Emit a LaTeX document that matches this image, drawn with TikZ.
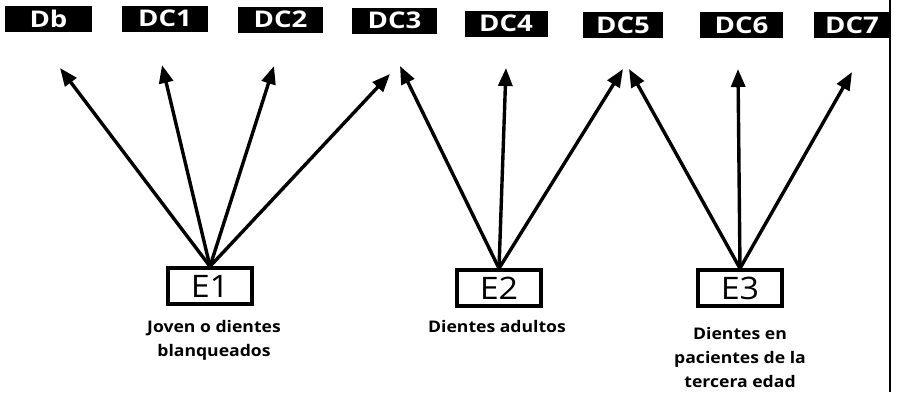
\documentclass[tikz,border=0pt]{standalone}
\usepackage{fontspec}
\setmainfont{Open Sans}
\newfontfamily\dcfont{Open Sans}[FakeStretch=1.2]
\newfontfamily\efont{Open Sans}[FakeStretch=1.1]
\newfontfamily\lblfont{Open Sans}[FakeStretch=1.1]
\usetikzlibrary{arrows.meta}
\begin{document}
\begin{tikzpicture}[x=1pt,y=1pt,
  dcbox/.style={fill=black,text=white,inner sep=0pt,minimum height=26pt,
    font=\dcfont\fontsize{23}{25}\selectfont\bfseries},
  ebox/.style={draw=black,line width=3.2pt,inner sep=0pt,minimum width=84pt,
    minimum height=36pt,font=\efont\fontsize{31}{33}\selectfont},
  lbl/.style={align=center,font=\lblfont\fontsize{16}{24}\selectfont\bfseries},
  arr/.style={line width=3.4pt,-{Triangle[length=18pt,width=14pt]}},
  border/.style={line width=2pt}]
\useasboundingbox (0,0) rectangle (907,-392);
% right border line
\coordinate (bt) at (890,0);
\coordinate (bb) at (890,-392);
\draw[border] (bt) -- (bb);
% top boxes
\node[dcbox,minimum width=87pt] (Db)  at (48.5,-18.5) {Db};
\node[dcbox,minimum width=86pt] (DC1) at (165,-18.5)    {DC1};
\node[dcbox,minimum width=85pt] (DC2) at (280.5,-19.5) {DC2};
\node[dcbox,minimum width=85pt] (DC3) at (394.5,-20.5) {DC3};
\node[dcbox,minimum width=83pt] (DC4) at (506,-23.5) {DC4};
\node[dcbox,minimum width=80pt] (DC5) at (623,-25)   {DC5};
\node[dcbox,minimum width=83pt] (DC6) at (741.5,-25) {DC6};
\node[dcbox,minimum width=76pt] (DC7) at (852,-25)   {DC7};
% bottom boxes
\node[ebox] (E1) at (210,-286) {E1};
\node[ebox] (E2) at (499,-288) {E2};
\node[ebox] (E3) at (740,-288) {E3};
% labels
\node[lbl,anchor=north] (L1) at (214,-317) {Joven o dientes\\blanqueados};
\node[lbl,anchor=north] (L2) at (497,-317) {Dientes adultos};
\node[lbl,anchor=south] (L3) at (740,-391) {Dientes en\\pacientes de la\\tercera edad};
% arrow tips (free ends below the top boxes)
\coordinate (tDb)  at (60,-68);
\coordinate (tDC1) at (162,-65);
\coordinate (tDC2) at (274,-66);
\coordinate (tDC3a) at (390,-74);
\coordinate (tDC3b) at (400,-66);
\coordinate (tDC4) at (506,-68);
\coordinate (tDC5a) at (623,-69);
\coordinate (tDC5b) at (629,-69);
\coordinate (tDC6) at (738,-69);
\coordinate (tDC7) at (852,-72);
% arrows
\draw[arr] (E1.north) -- (tDb);
\draw[arr] (E1.north) -- (tDC1);
\draw[arr] (E1.north) -- (tDC2);
\draw[arr] (E1.north) -- (tDC3a);
\draw[arr] (E2.north) -- (tDC3b);
\draw[arr] (E2.north) -- (tDC4);
\draw[arr] (E2.north) -- (tDC5a);
\draw[arr] (E3.north) -- (tDC5b);
\draw[arr] (E3.north) -- (tDC6);
\draw[arr] (E3.north) -- (tDC7);
\end{tikzpicture}
\end{document}
